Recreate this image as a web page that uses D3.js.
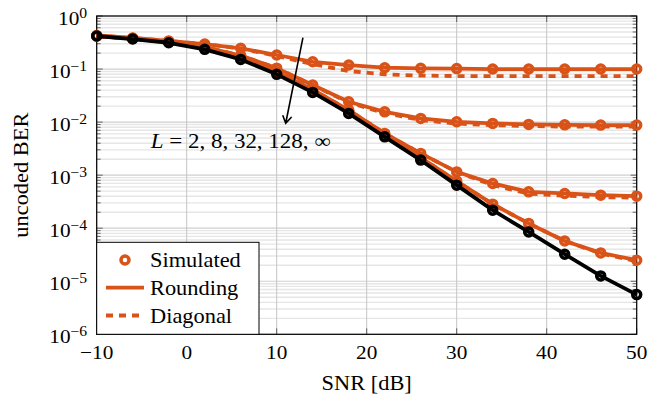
<!DOCTYPE html>
<html>
<head>
<meta charset="utf-8">
<script src="https://cdn.jsdelivr.net/npm/d3@7"></script>
<style>
  html, body { margin: 0; padding: 0; background: #fff; }
  svg text { font-family: 'Liberation Serif', 'DejaVu Serif', serif; fill: #000; }
</style>
</head>
<body>
<div id="chart"></div>
<script>
// BER vs SNR, one curve pair per block length L (orange) and L = inf (black)
const snr = [-10, -6, -2, 2, 6, 10, 14, 18, 22, 26, 30, 34, 38, 42, 46, 50];

const roundL2   = [0.429, 0.385, 0.338, 0.296, 0.246, 0.184, 0.137, 0.119, 0.106, 0.103, 0.102, 0.100, 0.100, 0.100, 0.100, 0.100];
const diagL2    = [0.429, 0.385, 0.338, 0.296, 0.244, 0.176, 0.124, 0.0917, 0.0794, 0.0754, 0.0738, 0.0738, 0.0738, 0.0738, 0.0738, 0.0738];
const roundL8   = [0.42, 0.376, 0.330, 0.260, 0.180, 0.104, 0.0499, 0.0242, 0.0156, 0.01174, 0.01014, 0.00945, 0.00905, 0.00889, 0.00878, 0.00878];
const diagL8    = [0.42, 0.376, 0.330, 0.260, 0.180, 0.104, 0.0499, 0.0233, 0.0148, 0.0109, 0.00937, 0.00878, 0.00841, 0.00822, 0.00822, 0.00822];
const roundL32  = [0.42, 0.376, 0.323, 0.244, 0.161, 0.0878, 0.0410, 0.0168, 0.00612, 0.00257, 0.00115, 6.97e-4, 4.84e-4, 4.52e-4, 4.20e-4, 4.02e-4];
const diagL32   = [0.42, 0.376, 0.323, 0.244, 0.161, 0.0878, 0.0410, 0.0168, 0.00612, 0.00257, 0.00115, 6.47e-4, 4.48e-4, 4.10e-4, 3.85e-4, 3.76e-4];
const roundL128 = [0.42, 0.376, 0.323, 0.244, 0.158, 0.0859, 0.0402, 0.0161, 0.0058, 0.00214, 7.7e-4, 2.84e-4, 1.23e-4, 5.75e-5, 3.42e-5, 2.49e-5];
const diagL128  = [0.42, 0.376, 0.323, 0.244, 0.158, 0.0859, 0.0402, 0.0161, 0.0058, 0.00214, 7.7e-4, 2.84e-4, 1.23e-4, 5.75e-5, 3.35e-5, 2.38e-5];
const berInf    = [0.42, 0.368, 0.313, 0.235, 0.152, 0.0794, 0.0363, 0.0146, 0.00528, 0.00192, 6.47e-4, 2.19e-4, 8.5e-5, 3.23e-5, 1.26e-5, 5.6e-6];

const xTicks = [-10, 0, 10, 20, 30, 40, 50];
const yExponents = [0, -1, -2, -3, -4, -5, -6];
const legendLabels = ['Simulated', 'Rounding', 'Diagonal'];
const annotText = ' = 2, 8, 32, 128, \u221E';
const arrowFrom = [12.9, 0.38];
const arrowTo = [11.0, 0.0095];
const annotAt = [6.0, 0.0032];

const W = 649, H = 396;
const margin = { top: 16, right: 12.3, bottom: 61.7, left: 96.7 };
const orange = '#D95319';
const SX = 1.12; // Computer Modern is wider than Times, stretch a bit

const svg = d3.select('#chart').append('svg')
  .attr('width', W)
  .attr('height', H);

const x = d3.scaleLinear().domain([-10, 50]).range([margin.left, W - margin.right]);
const y = d3.scaleLog().domain([1e-6, 1]).range([H - margin.bottom, margin.top]);

const x0 = x.range()[0], x1 = x.range()[1];
const yTop = y.range()[1], yBot = y.range()[0];

function label(sel, px, py, txt, size, anchor) {
  return sel.append('text')
    .attr('transform', `translate(${px},${py}) scale(${SX},1)`)
    .attr('font-size', size)
    .attr('text-anchor', anchor || 'start')
    .text(txt);
}

// minor + major horizontal grid
const minorVals = [];
for (let e = -6; e < 0; e++) {
  for (let m = 2; m <= 9; m++) minorVals.push(m * Math.pow(10, e));
}
const grid = svg.append('g');
grid.selectAll('.minor')
  .data(minorVals)
  .enter().append('line')
  .attr('x1', x0).attr('x2', x1)
  .attr('y1', d => y(d)).attr('y2', d => y(d))
  .attr('stroke', '#e6e6e6')
  .attr('stroke-width', 1.4);
grid.selectAll('.major-y')
  .data(yExponents)
  .enter().append('line')
  .attr('x1', x0).attr('x2', x1)
  .attr('y1', d => y(Math.pow(10, d))).attr('y2', d => y(Math.pow(10, d)))
  .attr('stroke', '#cfcfcf')
  .attr('stroke-width', 1.2);
grid.selectAll('.major-x')
  .data(xTicks)
  .enter().append('line')
  .attr('x1', d => x(d)).attr('x2', d => x(d))
  .attr('y1', yTop).attr('y2', yBot)
  .attr('stroke', '#c4c4c4')
  .attr('stroke-width', 1);

// ticks pointing inward on all four sides
const ticks = svg.append('g').attr('stroke', '#444').attr('stroke-width', 0.8);
minorVals.forEach(v => {
  ticks.append('line').attr('x1', x0).attr('x2', x0 + 4).attr('y1', y(v)).attr('y2', y(v));
  ticks.append('line').attr('x1', x1).attr('x2', x1 - 4).attr('y1', y(v)).attr('y2', y(v));
});
yExponents.forEach(e => {
  const v = Math.pow(10, e);
  ticks.append('line').attr('x1', x0).attr('x2', x0 + 6).attr('y1', y(v)).attr('y2', y(v));
  ticks.append('line').attr('x1', x1).attr('x2', x1 - 6).attr('y1', y(v)).attr('y2', y(v));
});
xTicks.forEach(t => {
  ticks.append('line').attr('x1', x(t)).attr('x2', x(t)).attr('y1', yBot).attr('y2', yBot - 6);
  ticks.append('line').attr('x1', x(t)).attr('x2', x(t)).attr('y1', yTop).attr('y2', yTop + 6);
});

svg.append('rect')
  .attr('x', x0).attr('y', yTop)
  .attr('width', x1 - x0).attr('height', yBot - yTop)
  .attr('fill', 'none')
  .attr('stroke', '#000')
  .attr('stroke-width', 1.2);

// curves
const line = d3.line()
  .x((d, i) => x(snr[i]))
  .y(d => y(d));

const curves = [
  { round: roundL2, diag: diagL2 },
  { round: roundL8, diag: diagL8 },
  { round: roundL32, diag: diagL32 },
  { round: roundL128, diag: diagL128 },
];

const plot = svg.append('g');
curves.forEach(c => {
  plot.append('path')
    .attr('d', line(c.diag))
    .attr('fill', 'none')
    .attr('stroke', orange)
    .attr('stroke-width', 3.8)
    .attr('stroke-dasharray', '7,6');
  plot.append('path')
    .attr('d', line(c.round))
    .attr('fill', 'none')
    .attr('stroke', orange)
    .attr('stroke-width', 3.8)
    .attr('stroke-linejoin', 'round');
  plot.append('g').selectAll('circle')
    .data(c.round)
    .enter().append('circle')
    .attr('cx', (d, i) => x(snr[i]))
    .attr('cy', d => y(d))
    .attr('r', 4)
    .attr('fill', 'none')
    .attr('stroke', orange)
    .attr('stroke-width', 3.5);
});

plot.append('path')
  .attr('d', line(berInf))
  .attr('fill', 'none')
  .attr('stroke', '#000')
  .attr('stroke-width', 3.8)
  .attr('stroke-linejoin', 'round');
plot.append('g').selectAll('circle')
  .data(berInf)
  .enter().append('circle')
  .attr('cx', (d, i) => x(snr[i]))
  .attr('cy', d => y(d))
  .attr('r', 4)
  .attr('fill', 'none')
  .attr('stroke', '#000')
  .attr('stroke-width', 3.5);

// annotation arrow
const ax0 = x(arrowFrom[0]), ay0 = y(arrowFrom[1]);
const ax1 = x(arrowTo[0]), ay1 = y(arrowTo[1]);
const ang = Math.atan2(ay1 - ay0, ax1 - ax0);
const wing = 8, spread = 0.55;
svg.append('path')
  .attr('d', `M${ax0},${ay0}L${ax1},${ay1}` +
    `M${ax1 - wing * Math.cos(ang - spread)},${ay1 - wing * Math.sin(ang - spread)}` +
    `L${ax1},${ay1}` +
    `L${ax1 - wing * Math.cos(ang + spread)},${ay1 - wing * Math.sin(ang + spread)}`)
  .attr('fill', 'none')
  .attr('stroke', '#000')
  .attr('stroke-width', 1.6)
  .attr('stroke-linecap', 'round');

const annot = svg.append('text')
  .attr('transform', `translate(${x(annotAt[0])},${y(annotAt[1])}) scale(${SX},1)`)
  .attr('font-size', 20.5)
  .attr('text-anchor', 'middle');
annot.append('tspan').attr('font-style', 'italic').text('L');
annot.append('tspan').text(annotText);

// tick labels
xTicks.forEach(t => {
  label(svg, x(t), yBot + 24.5, t < 0 ? '\u2212' + Math.abs(t) : String(t), 19, 'middle');
});
yExponents.forEach(e => {
  const tx = svg.append('text')
    .attr('transform', `translate(${x0 - 9.5},${y(Math.pow(10, e)) + 9}) scale(${SX},1)`)
    .attr('font-size', 19)
    .attr('text-anchor', 'end');
  tx.append('tspan').text('10');
  tx.append('tspan')
    .attr('font-size', 14)
    .attr('dy', -7.5)
    .text(e < 0 ? '\u2212' + Math.abs(e) : String(e));
});

// axis titles
label(svg, (x0 + x1) / 2, 390, 'SNR [dB]', 20, 'middle');
svg.append('text')
  .attr('transform', `translate(28,${(yTop + yBot) / 2}) rotate(-90) scale(${SX},1)`)
  .attr('font-size', 20)
  .attr('text-anchor', 'middle')
  .text('uncoded BER');

// legend
const lg = svg.append('g');
lg.append('rect')
  .attr('x', x0).attr('y', 242.3)
  .attr('width', 162.3).attr('height', yBot - 242.3)
  .attr('fill', '#fff')
  .attr('stroke', '#000')
  .attr('stroke-width', 1);
const rowY = [260, 287.7, 315.5];
lg.append('circle')
  .attr('cx', 125).attr('cy', rowY[0]).attr('r', 4)
  .attr('fill', 'none').attr('stroke', orange).attr('stroke-width', 3.5);
lg.append('line')
  .attr('x1', 106).attr('x2', 144).attr('y1', rowY[1]).attr('y2', rowY[1])
  .attr('stroke', orange).attr('stroke-width', 3.8);
lg.append('line')
  .attr('x1', 106).attr('x2', 144).attr('y1', rowY[2]).attr('y2', rowY[2])
  .attr('stroke', orange).attr('stroke-width', 3.8)
  .attr('stroke-dasharray', '7,6');
legendLabels.forEach((t, i) => {
  label(lg, 150, rowY[i] + 7, t, 20, 'start');
});
</script>
</body>
</html>
